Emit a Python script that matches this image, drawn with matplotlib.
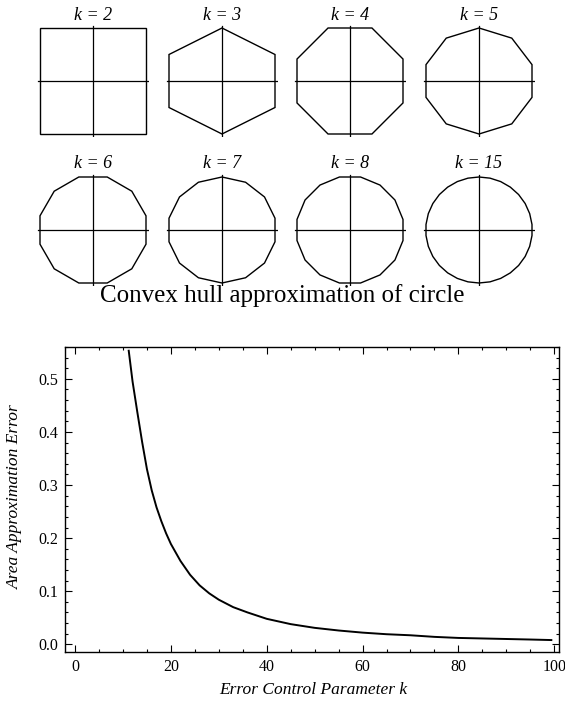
import numpy as np
import matplotlib
matplotlib.use('Agg')
import matplotlib.pyplot as plt
from matplotlib.ticker import MultipleLocator

# polygon panels: 2k-gon approximation of the unit circle
panel_k = [2, 3, 4, 5, 6, 7, 8, 15]

# area approximation error
err_k = [11.2, 12, 13, 14, 15, 16, 17, 18, 19, 20, 22, 24, 26, 28, 30, 33, 36, 40,
         45, 50, 55, 60, 65, 70, 75, 80, 85, 90, 95, 99.4]
err_val = [0.553, 0.495, 0.437, 0.381, 0.330, 0.290, 0.258, 0.232, 0.209, 0.189,
           0.157, 0.131, 0.111, 0.096, 0.084, 0.070, 0.060, 0.048, 0.038, 0.031,
           0.026, 0.022, 0.019, 0.017, 0.014, 0.012, 0.011, 0.010, 0.009, 0.008]

W, H = 565, 709
serif = ['Liberation Serif', 'DejaVu Serif']
plt.rcParams['font.family'] = serif

fig = plt.figure(figsize=(W / 100, H / 100), dpi=100)

col_x = [93, 222, 350, 479]
row_y = [81, 230]
half = 53  # pixel half size of each polygon
pad = 1.05

for i, k in enumerate(panel_k):
    cx = col_x[i % 4]
    cy = row_y[i // 4]
    s = half * pad
    ax = fig.add_axes([(cx - s) / W, 1 - (cy + s) / H, 2 * s / W, 2 * s / H])
    ang = (2 * np.arange(2 * k) + 1) * np.pi / (2 * k)
    px = np.cos(ang)
    py = np.sin(ang)
    hw = np.abs(px).max()
    hh = np.abs(py).max()
    ax.fill(px, py, facecolor='none', edgecolor='black', lw=1.0, joinstyle='miter')
    ax.plot([-1.03 * hw, 1.03 * hw], [0, 0], color='black', lw=0.9)
    ax.plot([0, 0], [-1.03 * hh, 1.03 * hh], color='black', lw=0.9)
    ax.set_xlim(-pad * hw, pad * hw)
    ax.set_ylim(-pad * hh, pad * hh)
    ax.axis('off')
    fig.text(cx / W, 1 - (cy - 66) / H, f'k = {k}', ha='center', va='center',
             fontsize=13, style='italic')

fig.text(0.5, 1 - 296 / H, 'Convex hull approximation of circle', ha='center',
         va='center', fontsize=18)

# main error plot
ax = fig.add_axes([65 / W, 1 - 652 / H, (559 - 65) / W, (652 - 347) / H])
ax.plot(err_k, err_val, color='black', lw=1.4)
ax.set_xlim(-2.1, 101)
ax.set_ylim(-0.0145, 0.56)
ax.xaxis.set_major_locator(MultipleLocator(20))
ax.xaxis.set_minor_locator(MultipleLocator(5))
ax.yaxis.set_major_locator(MultipleLocator(0.1))
ax.yaxis.set_minor_locator(MultipleLocator(0.02))
ax.yaxis.set_major_formatter(plt.FuncFormatter(lambda v, p: f'{v:.1f}'))
ax.tick_params(which='both', direction='in', top=True, right=True,
               labelsize=11.5, width=0.8)
ax.tick_params(which='major', length=5, pad=5)
ax.tick_params(which='minor', length=2.5)
for sp in ax.spines.values():
    sp.set_linewidth(1.0)

fig.text(15 / W, 1 - 497 / H, 'Area Approximation Error', rotation=90,
         ha='center', va='center', fontsize=12.5, style='italic')
fig.text(313 / W, 1 - 690 / H, 'Error Control Parameter k', ha='center',
         va='center', fontsize=12.5, style='italic')

fig.savefig('out.png', dpi=100)
